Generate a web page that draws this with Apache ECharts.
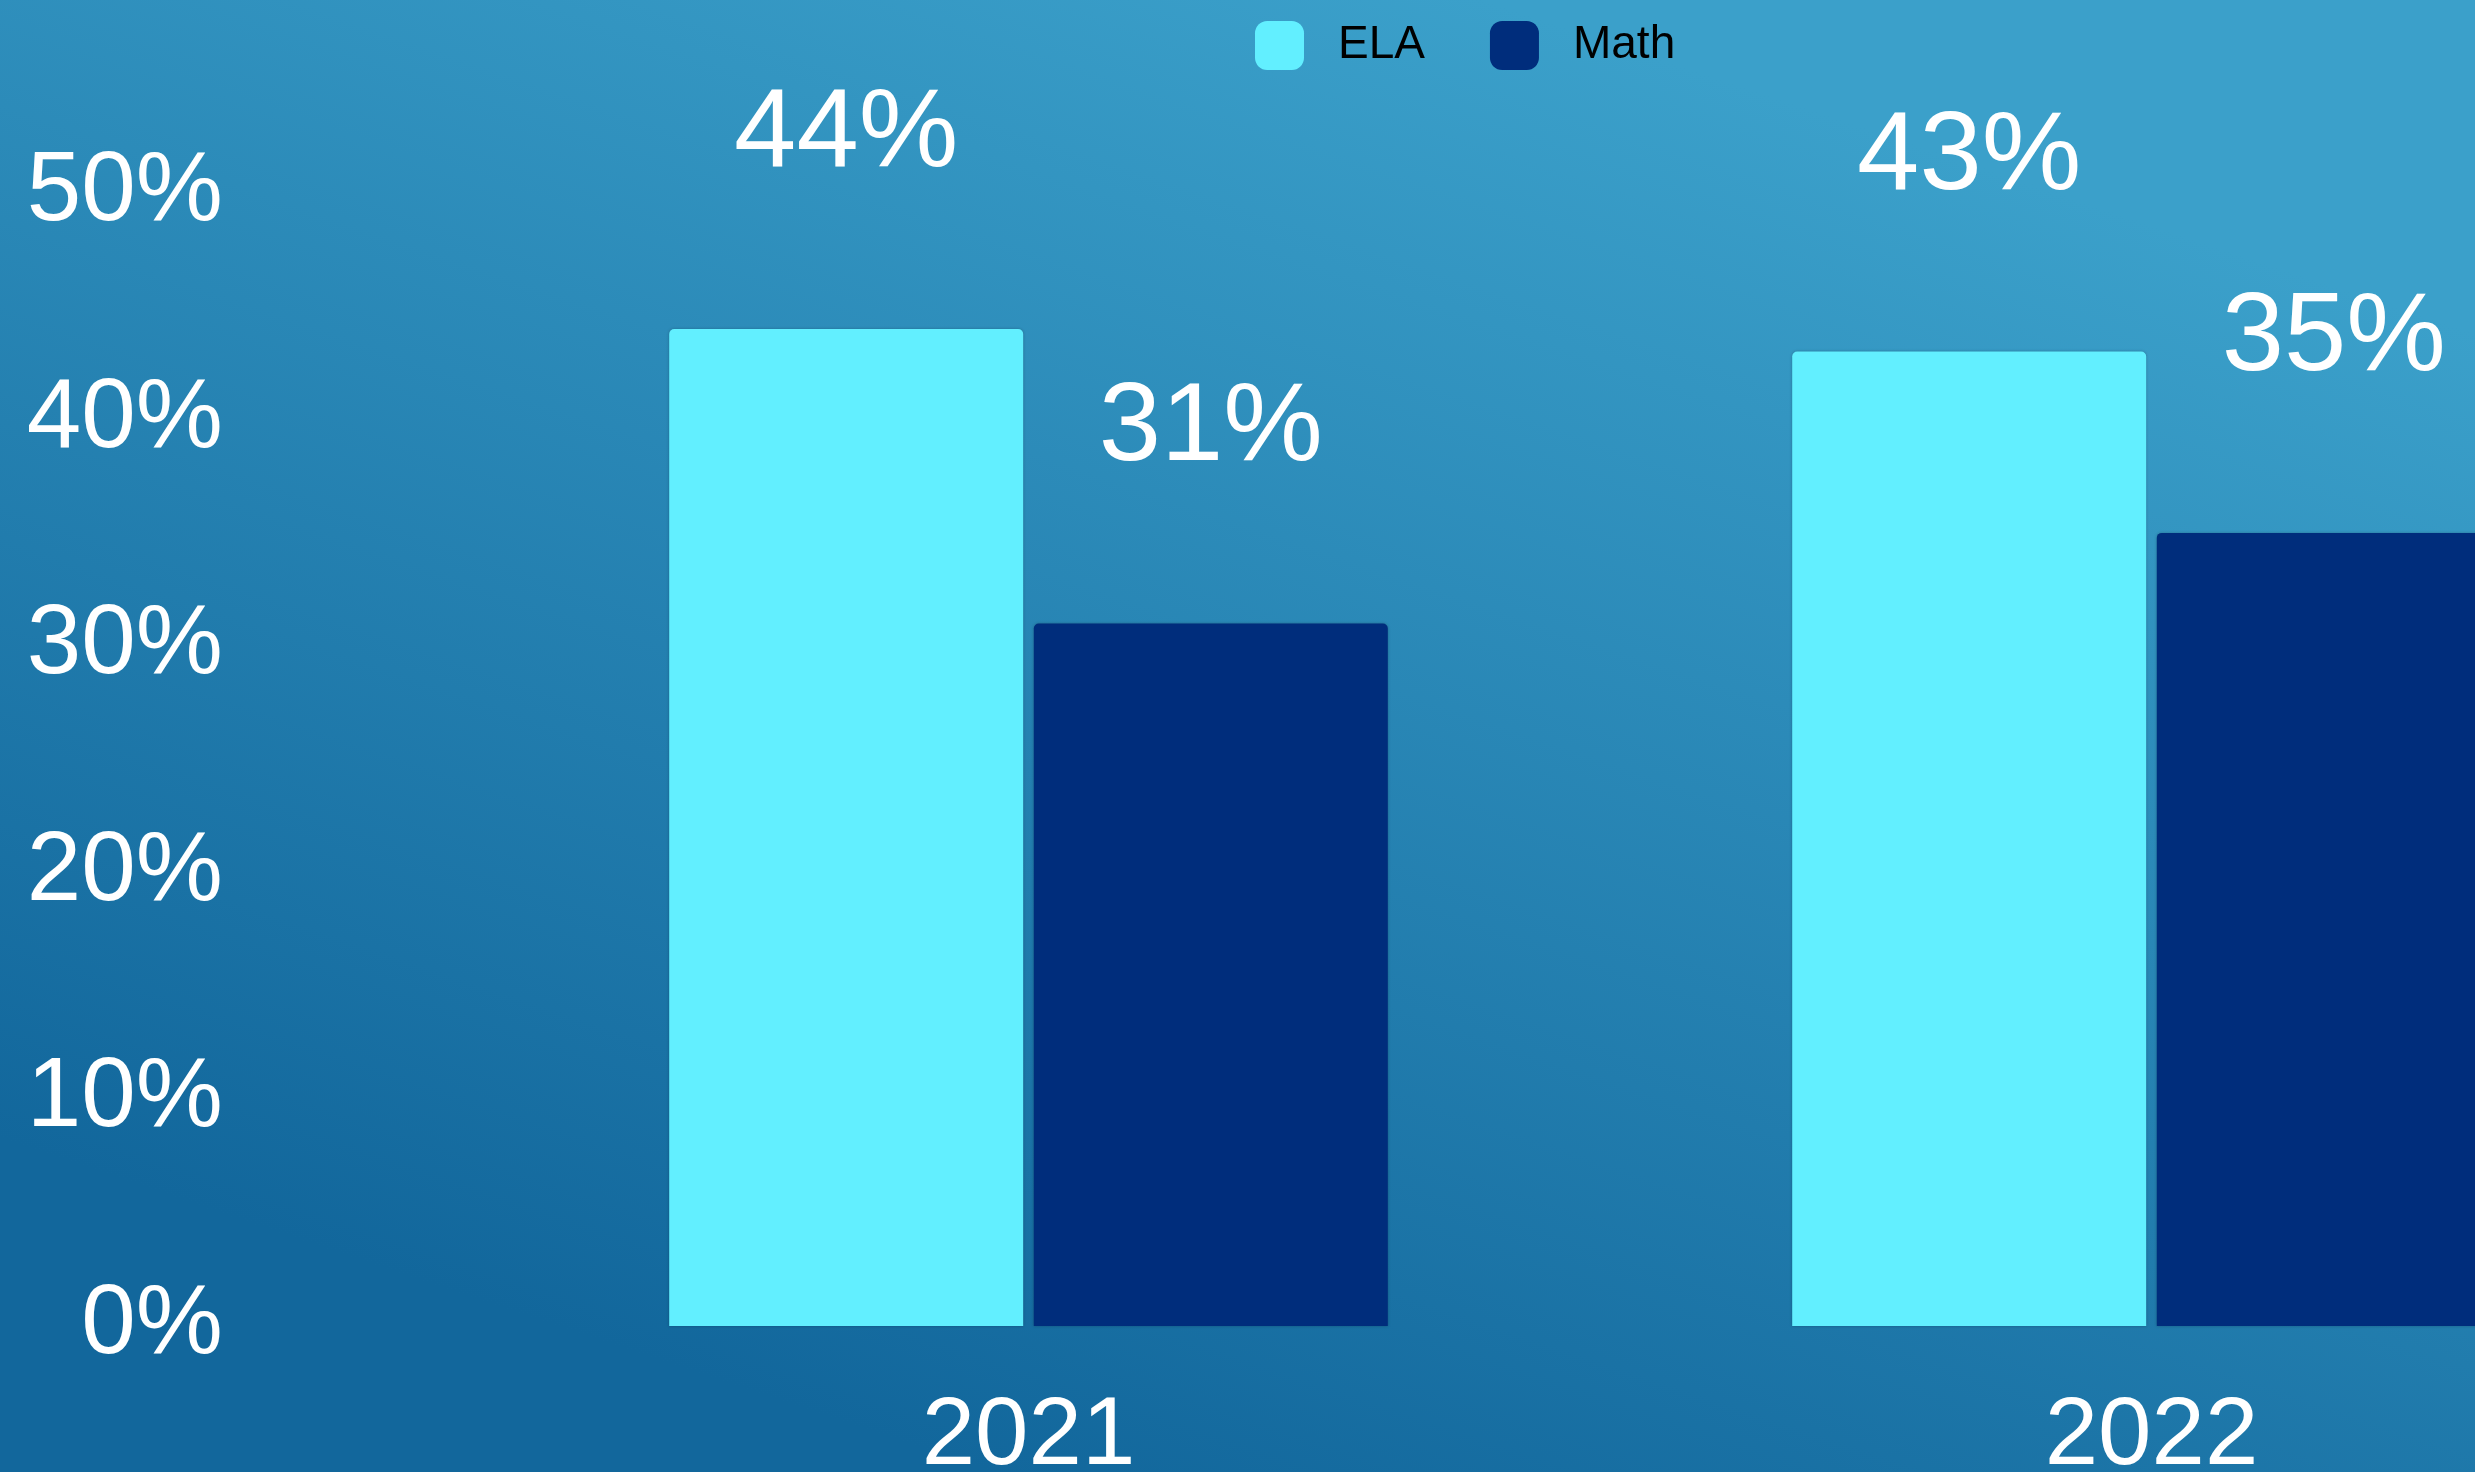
<!DOCTYPE html>
<html>
<head>
<meta charset="utf-8">
<title>ELA and Math</title>
<script src="https://cdn.jsdelivr.net/npm/echarts@6/dist/echarts.min.js"></script>
<style>
  html, body { margin: 0; padding: 0; width: 100%; height: 100%; overflow: hidden; }
  #chart { width: 2475px; height: 1472px; }
</style>
</head>
<body>
<div id="chart"></div>
<script>
// School years on the x axis
const years = ['2021', '2022'];
// Share of students meeting the standard, in percent
const elaValues = [44, 43];
const mathValues = [31, 35];
// Y axis range and step, in percent
const yMin = 0;
const yMax = 50;
const yStep = 10;

const FONT = '"Liberation Sans", Arial, sans-serif';

const chart = echarts.init(document.getElementById('chart'));

const valueLabel = {
  show: true,
  position: 'top',
  distance: 138,
  color: '#ffffff',
  fontFamily: FONT,
  fontSize: 112,
  formatter: p => p.value + '%'
};

chart.setOption({
  backgroundColor: {
    type: 'linear',
    x: 0.6, y: 0, x2: 0.4, y2: 1,
    colorStops: [
      { offset: 0, color: '#3ba0ca' },
      { offset: 1, color: '#12679c' }
    ]
  },
  textStyle: { fontFamily: FONT },
  legend: {
    left: 1255,
    top: 21,
    padding: 0,
    itemWidth: 49,
    itemHeight: 49,
    itemGap: 65,
    icon: 'roundRect',
    textStyle: {
      color: '#000000',
      fontFamily: FONT,
      fontSize: 46,
      padding: [4, 0, 0, 29]
    },
    data: ['ELA', 'Math']
  },
  // the plot area runs past the right edge of the canvas
  grid: {
    left: 467,
    top: 193,
    width: 2246,
    bottom: 146,
    containLabel: false,
    outerBoundsMode: 'none'
  },
  xAxis: {
    type: 'category',
    data: years,
    axisLine: { show: false },
    axisTick: { show: false },
    axisLabel: {
      color: '#ffffff',
      fontFamily: FONT,
      fontSize: 96,
      margin: 64
    }
  },
  yAxis: {
    type: 'value',
    min: yMin,
    max: yMax,
    interval: yStep,
    axisLine: { show: false },
    axisTick: { show: false },
    splitLine: { show: false },
    axisLabel: {
      color: '#ffffff',
      fontFamily: FONT,
      fontSize: 98,
      margin: 244,
      padding: [10, 0, 0, 0],
      formatter: '{value}%'
    }
  },
  series: [
    {
      name: 'ELA',
      type: 'bar',
      data: elaValues,
      barWidth: 354,
      barGap: '3%',
      itemStyle: {
        color: '#62efff',
        borderRadius: [5, 5, 0, 0],
        shadowColor: 'rgba(0,0,0,0.25)',
        shadowBlur: 3
      },
      label: valueLabel
    },
    {
      name: 'Math',
      type: 'bar',
      data: mathValues,
      barWidth: 354,
      barGap: '3%',
      itemStyle: {
        color: '#002d7c',
        borderRadius: [5, 5, 0, 0],
        shadowColor: 'rgba(0,0,0,0.25)',
        shadowBlur: 3
      },
      label: valueLabel
    }
  ]
});
</script>
</body>
</html>
